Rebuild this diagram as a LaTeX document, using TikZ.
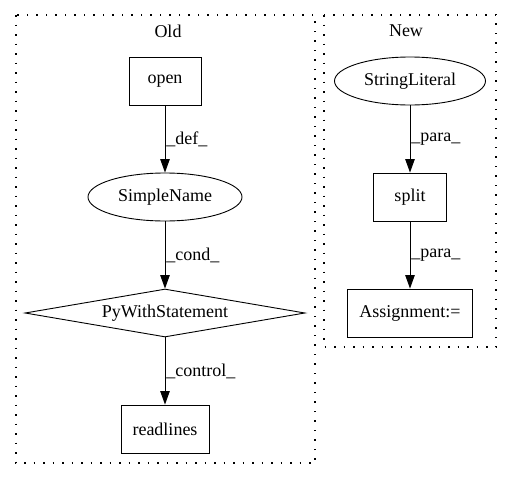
\documentclass[tikz,border=0pt]{standalone}
\usepackage{fontspec}
\setmainfont{Liberation Serif}
\usetikzlibrary{shapes.geometric,arrows.meta}
\tikzset{
  box/.style={draw, rectangle, minimum height=48pt, inner sep=0pt, line width=0.9pt},
  oval/.style={draw, ellipse, minimum height=48pt, inner sep=0pt, line width=0.9pt},
  cond/.style={draw, diamond, aspect=5.8, minimum width=280pt, minimum height=48pt, inner sep=0pt, line width=0.9pt},
  cluster/.style={draw, line width=1.3pt, dash pattern=on 1.5pt off 8pt},
  flow/.style={line width=0.9pt, -{Triangle[length=13.5pt,width=9.5pt]}},
  lbl/.style={right, inner sep=1pt}
}
\begin{document}
\begin{tikzpicture}[x=1pt,y=-1pt,font=\fontsize{18}{21}\selectfont]
\useasboundingbox (0,0) rectangle (512,480);
% clusters
\draw[cluster] (16,15) rectangle (315,463);
\node at (168,31) {Old};
\draw[cluster] (324,15) rectangle (496,347);
\node at (406,31) {New};
% old
\node[box, minimum width=72pt] (open) at (165,81) {open};
\node[oval, minimum width=154pt] (sname) at (165,197) {SimpleName};
\node[cond] (with) at (165,313) {PyWithStatement};
\node[box, minimum width=88pt] (rlines) at (165,429) {readlines};
\draw[flow] (open) -- node[lbl]{\_def\_} (sname);
\draw[flow] (sname) -- node[lbl]{\_cond\_} (with);
\draw[flow] (with) -- node[lbl]{\_control\_} (rlines);
% new
\node[oval, minimum width=151pt] (strlit) at (410,81) {StringLiteral};
\node[box, minimum width=73pt] (split) at (410,197) {split};
\node[box, minimum width=125pt] (assign) at (410,313) {Assignment:=};
\draw[flow] (strlit) -- node[lbl]{\_para\_} (split);
\draw[flow] (split) -- node[lbl]{\_para\_} (assign);
\end{tikzpicture}
\end{document}
